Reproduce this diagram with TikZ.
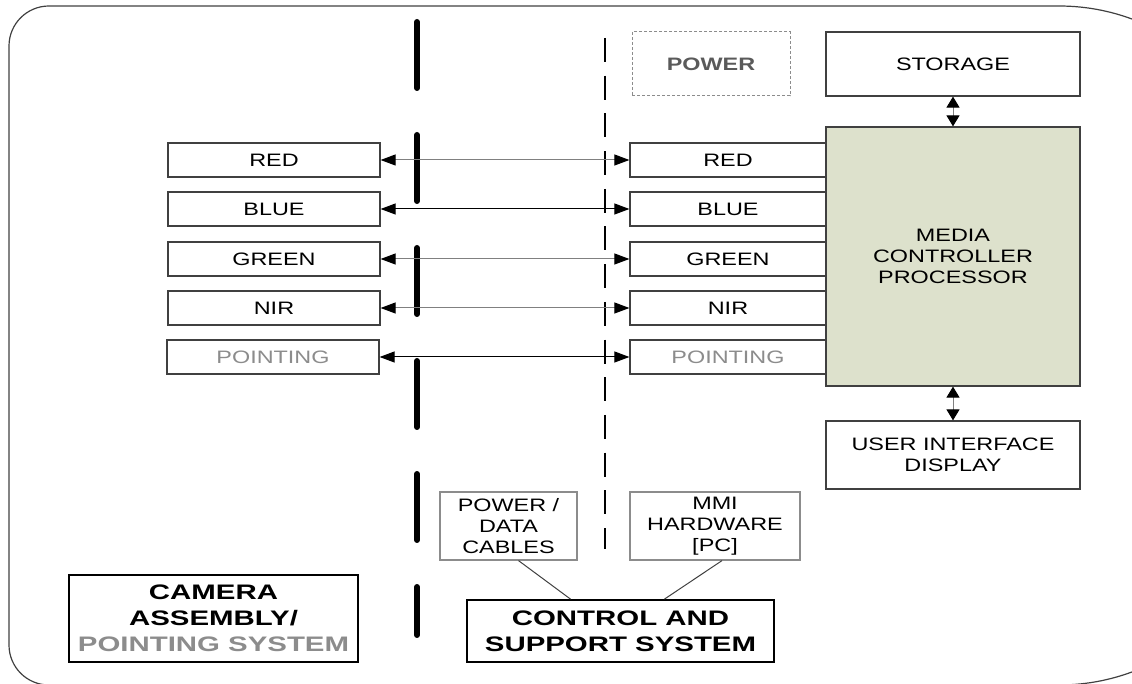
\documentclass[tikz,border=0pt]{standalone}
\usepackage{fontspec}
\setmainfont[FakeStretch=1.3]{Liberation Sans}
\newfontfamily\titlefont[FakeStretch=1.4]{Liberation Sans}
\usepackage{tikz}
\usetikzlibrary{arrows.meta,positioning,calc}
\usepackage{xcolor}
\definecolor{boxline}{HTML}{404040}
\definecolor{auxline}{HTML}{8C8C8C}
\definecolor{linegray}{HTML}{808080}
\definecolor{textgray}{HTML}{8C8C8C}
\definecolor{powergray}{HTML}{5A5A5A}
\definecolor{mcpfill}{HTML}{DDE1CC}

\begin{document}
\begin{tikzpicture}[
  x=0.5pt,y=-0.5pt,
  font=\fontsize{9}{10.5}\selectfont,
  chan/.style={draw=boxline,line width=0.6pt,minimum height=17pt,inner sep=0pt},
  unit/.style={draw=boxline,line width=0.6pt,minimum width=127pt,align=center,inner sep=0pt},
  aux/.style={draw=auxline,line width=0.6pt,minimum height=34pt,align=center,inner sep=0pt},
  sysbox/.style={draw,line width=0.9pt,align=center,inner sep=0pt,
    font=\titlefont\bfseries\fontsize{10.5}{13}\selectfont},
  link/.style={>={Triangle[length=7.5pt,width=5.5pt,color=black]},<->,line width=0.5pt},
  vlink/.style={>={Triangle[length=5.5pt,width=6.5pt,color=black]},<->,line width=0.5pt,draw=linegray},
  wire/.style={draw=boxline,line width=0.5pt},
  camsplit/.style={line width=3pt,line cap=round,dash pattern=on 33pt off 23.5pt},
  supsplit/.style={line width=1pt,dash pattern=on 12pt off 6.85pt}
]
\useasboundingbox (0,0) rectangle (1132,684);

% outer frame, cut off at the right and bottom
\draw[boxline,line width=0.6pt] (600,6) [rounded corners=20pt] -- (9,6) -- (9,685) -- (600,685)
  [rounded corners=105pt] -- (1269,685) -- (1269,6) -- cycle;

% boundaries between camera side and support side
\draw[camsplit] (417,22) -- (417,635);
\draw[supsplit] (605,38) -- (605,549);

% Camera assembly channels
\node[chan,minimum width=106pt] (lred) at (274,160) {RED};
\node[chan,minimum width=106pt] (lblue) at (274,209) {BLUE};
\node[chan,minimum width=106pt] (lgreen) at (274,259) {GREEN};
\node[chan,minimum width=106pt] (lnir) at (274,308) {NIR};
\node[chan,minimum width=106pt,text=textgray] (lpoint) at (273,357) {POINTING};

% Media controller side
\node[unit,minimum height=129.5pt,fill=mcpfill] (mcp) at (953,256.5) {MEDIA\\CONTROLLER\\PROCESSOR};
\node[unit,minimum height=32pt] (storage) at (953,64) {STORAGE};
\node[unit,minimum height=34pt] (ui) at (953,455) {USER INTERFACE\\DISPLAY};
\node[draw=auxline,line width=0.5pt,dash pattern=on 1.5pt off 1pt,minimum width=79pt,minimum height=32pt,
  text=powergray,font=\bfseries\fontsize{9}{10.5}\selectfont] (power) at (711,64) {POWER};

\node[chan,minimum width=98pt] (rred) at (728,160) {RED};
\node[chan,minimum width=98pt] (rblue) at (728,209) {BLUE};
\node[chan,minimum width=98pt] (rgreen) at (728,259) {GREEN};
\node[chan,minimum width=98pt] (rnir) at (728,308) {NIR};
\node[chan,minimum width=98pt,text=textgray] (rpoint) at (728,357) {POINTING};

\draw[link,draw=linegray] (lred) -- (rred);
\draw[link] (lblue) -- (rblue);
\draw[link,draw=linegray] (lgreen) -- (rgreen);
\draw[link,draw=linegray] (lnir) -- (rnir);
\draw[link] (lpoint) -- (rpoint);

\draw[vlink] (storage) -- (mcp);
\draw[vlink] (mcp) -- (ui);

% Support system
\node[aux,minimum width=68.5pt] (cables) at (508.5,526) {POWER /\\DATA\\CABLES};
\node[aux,minimum width=85pt] (mmi) at (715,526) {MMI\\HARDWARE\\{}[PC]};
\node[sysbox,minimum width=153.5pt,minimum height=31pt] (ctrl) at (620.5,631) {CONTROL AND\\SUPPORT SYSTEM};
\node[sysbox,minimum width=144.5pt,minimum height=43.5pt] (camera) at (213.5,618.5)
  {CAMERA\\ASSEMBLY/\\\textcolor{textgray}{POINTING SYSTEM}};

\draw[wire] ([xshift=5pt]cables.south) -- ([xshift=-25pt]ctrl.north);
\draw[wire] ([xshift=3.5pt]mmi.south) -- ([xshift=22pt]ctrl.north);
\end{tikzpicture}
\end{document}
